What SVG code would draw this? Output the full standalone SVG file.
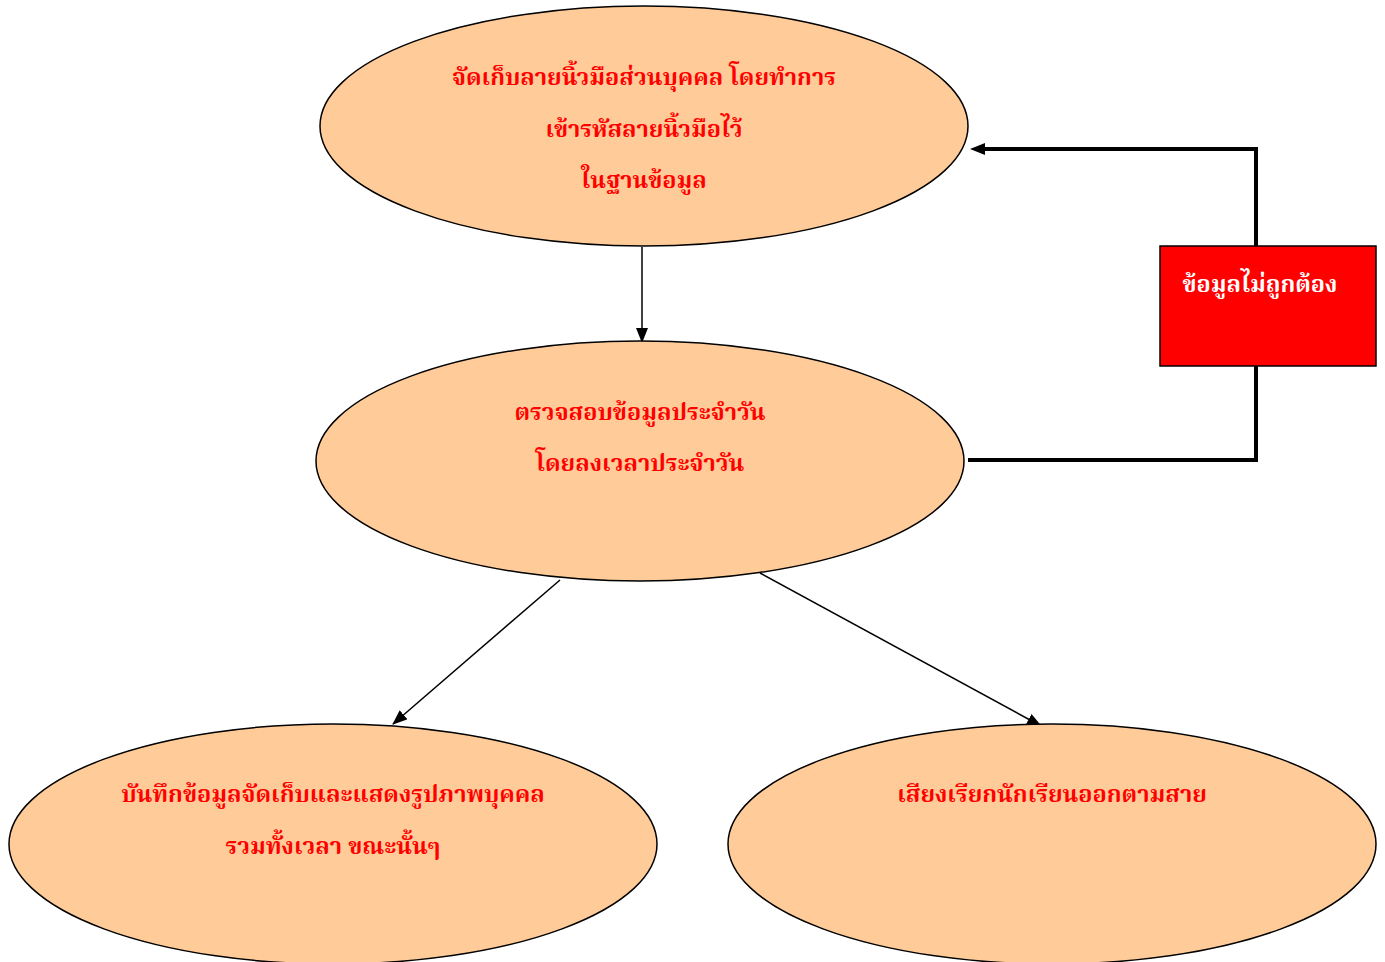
<svg xmlns="http://www.w3.org/2000/svg" width="1385" height="962" viewBox="0 0 1385 962">
<style>
.node ellipse{fill:#FFCC99;stroke:#000;stroke-width:1.5}
.t{font-family:"Noto Serif Thai","Noto Sans Thai","Liberation Serif","DejaVu Sans",serif;font-weight:bold;font-size:23.5px;fill:#FF0000;text-anchor:middle}
.w{fill:#FFFFFF}
.c{stroke:#000;fill:none;stroke-width:1.5}
.fb{stroke:#000;fill:none;stroke-width:4}
</style>
<defs>
<marker id="ah" viewBox="0 0 15 12" refX="14" refY="6" markerWidth="15" markerHeight="12" orient="auto" markerUnits="userSpaceOnUse">
<path d="M0,0 L15,6 L0,12 z" fill="#000"/>
</marker>
<marker id="ah2" viewBox="0 0 15 12" refX="1" refY="6" markerWidth="15" markerHeight="12" orient="auto" markerUnits="userSpaceOnUse">
<path d="M0,0 L15,6 L0,12 z" fill="#000"/>
</marker>
</defs>
<rect width="1385" height="962" fill="#fff"/>
<g id="connectors">
<line class="c" x1="642" y1="247" x2="642" y2="342" marker-end="url(#ah)"/>
<line class="c" x1="560" y1="580" x2="393" y2="724" marker-end="url(#ah)"/>
<line class="c" x1="760" y1="573" x2="1041" y2="726" marker-end="url(#ah)"/>
<polyline class="fb" points="968,460 1256,460 1256,366"/>
<polyline class="fb" points="1256,246 1256,149 984,149" marker-end="url(#ah2)"/>
</g>
<g id="n1" class="node">
<ellipse cx="644" cy="126" rx="324" ry="120"/>
<text class="t" x="644" y="85">จัดเก็บลายนิ้วมือส่วนบุคคล โดยทำการ</text>
<text class="t" x="644" y="137">เข้ารหัสลายนิ้วมือไว้</text>
<text class="t" x="644" y="188">ในฐานข้อมูล</text>
</g>
<g id="n2" class="node">
<ellipse cx="640" cy="461" rx="324" ry="120"/>
<text class="t" x="640" y="420">ตรวจสอบข้อมูลประจำวัน</text>
<text class="t" x="640" y="471">โดยลงเวลาประจำวัน</text>
</g>
<g id="n3" class="node">
<ellipse cx="333" cy="844" rx="324" ry="120"/>
<text class="t" x="333" y="802">บันทึกข้อมูลจัดเก็บและแสดงรูปภาพบุคคล</text>
<text class="t" x="333" y="854">รวมทั้งเวลา ขณะนั้นๆ</text>
</g>
<g id="n4" class="node">
<ellipse cx="1052" cy="844" rx="324" ry="120"/>
<text class="t" x="1052" y="802">เสียงเรียกนักเรียนออกตามสาย</text>
</g>
<g id="n5">
<rect x="1160" y="246" width="216" height="120" fill="#FF0000" stroke="#000" stroke-width="1.5"/>
<text class="t w" x="1260" y="292">ข้อมูลไม่ถูกต้อง</text>
</g>
</svg>
